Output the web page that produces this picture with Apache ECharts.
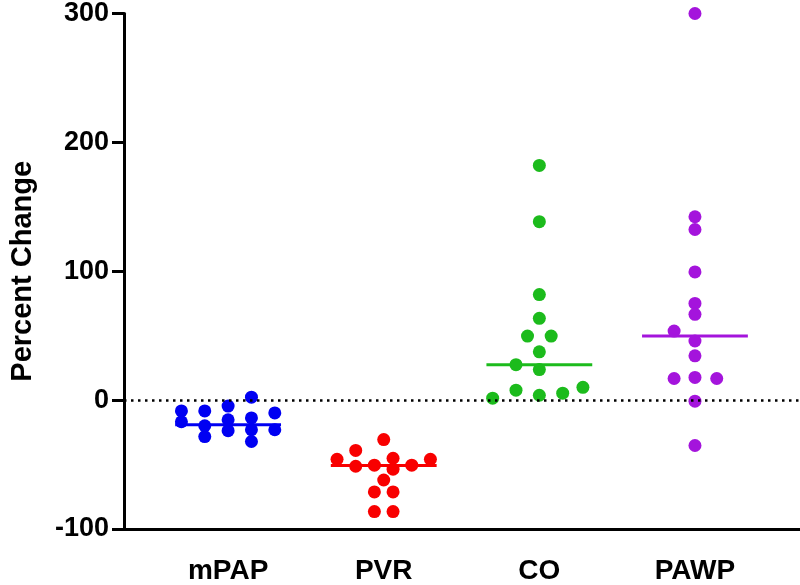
<!DOCTYPE html>
<html>
<head>
<meta charset="utf-8">
<script src="https://cdn.jsdelivr.net/npm/echarts@6/dist/echarts.min.js"></script>
<style>
html,body{margin:0;padding:0;background:#fff;}
#chart{width:800px;height:585px;}
</style>
</head>
<body>
<div id="chart"></div>
<script>
// ---- data ----
const categories = ['mPAP', 'PVR', 'CO', 'PAWP'];
const yTicks = [-100, 0, 100, 200, 300];

const mpapValues = [-8.4, -16.8, -8.4, -19.9, -28.3, -4.6, -15.3, -23.7, 2.3, -13.8, -23.0, -32.1, -9.9, -23.0];
const mpapJitter = [-0.30, -0.30, -0.15, -0.15, -0.15, 0, 0, 0, 0.15, 0.15, 0.15, 0.15, 0.30, 0.30];

const pvrValues = [-30.6, -39.0, -45.9, -45.1, -45.9, -51.3, -50.5, -53.6, -50.5, -62.0, -71.2, -71.2, -86.5, -86.5];
const pvrJitter = [0, -0.18, -0.30, 0.06, 0.30, -0.18, -0.06, 0.06, 0.18, 0, -0.06, 0.06, -0.06, 0.06];

const coValues = [182.1, 138.5, 81.9, 63.5, 49.7, 49.7, 37.5, 27.5, 23.7, 7.7, 1.5, 3.8, 5.4, 9.9];
const coJitter = [0, 0, 0, 0, -0.076, 0.076, 0, -0.15, 0, -0.15, -0.30, 0, 0.15, 0.28];

const pawpValues = [300, 142.3, 132.4, 99.5, 75.0, 66.6, 53.6, 45.9, 34.4, 16.8, 17.6, 16.8, -0.8, -35.2];
const pawpJitter = [0, 0, 0, 0, 0, 0, -0.134, 0, 0, -0.134, 0, 0.14, 0, 0];

const medians = [-19.1, -50.7, 27.5, 49.7];
const colors = ['#0000f2', '#f80000', '#1cbb1c', '#a414dc'];

// ---- build ----
const groups = [
  [mpapValues, mpapJitter],
  [pvrValues, pvrJitter],
  [coValues, coJitter],
  [pawpValues, pawpJitter]
];
const halfWidth = 0.34;
const font = "'Liberation Sans', Arial, sans-serif";

const series = [];
groups.forEach((g, i) => {
  const pos = i + 1;
  series.push({
    type: 'line',
    data: [[pos - halfWidth, medians[i]], [pos + halfWidth, medians[i]]],
    showSymbol: false,
    symbol: 'none',
    lineStyle: { color: colors[i], width: 3, opacity: 1 },
    silent: true,
    z: 3
  });
  series.push({
    type: 'scatter',
    data: g[0].map((v, k) => [pos + g[1][k], v]),
    symbolSize: 13,
    itemStyle: { color: colors[i], opacity: 1 },
    clip: false,
    z: 4
  });
});
series.push({
  type: 'line',
  data: [],
  markLine: {
    silent: true,
    symbol: 'none',
    label: { show: false },
    lineStyle: { color: '#000', width: 2.5, type: [2.5, 4.5], opacity: 1 },
    data: [{ yAxis: 0 }]
  },
  z: 2
});

const chart = echarts.init(document.getElementById('chart'), null, { renderer: 'canvas' });
chart.setOption({
  animation: false,
  backgroundColor: '#fff',
  grid: { left: 118, right: 0, top: 10, bottom: 52, containLabel: false },
  xAxis: {
    type: 'value',
    min: 0.331,
    max: 4.675,
    splitLine: { show: false },
    axisLine: { show: true, onZero: false, lineStyle: { color: '#000', width: 3 } },
    axisTick: { show: false },
    axisLabel: {
      customValues: [1, 2, 3, 4],
      formatter: v => categories[Math.round(v) - 1] || '',
      color: '#000',
      fontFamily: font,
      fontWeight: 'bold',
      fontSize: 28,
      margin: 28
    }
  },
  yAxis: {
    type: 'value',
    min: -100,
    max: 300,
    interval: 100,
    name: 'Percent Change',
    nameLocation: 'middle',
    nameGap: 87,
    nameTextStyle: { color: '#000', fontFamily: font, fontWeight: 'bold', fontSize: 29 },
    splitLine: { show: false },
    axisLine: { show: true, lineStyle: { color: '#000', width: 3 } },
    axisTick: { show: true, length: 12, lineStyle: { color: '#000', width: 3 } },
    axisLabel: {
      color: '#000',
      fontFamily: font,
      fontWeight: 'bold',
      fontSize: 27,
      margin: 15,
      formatter: v => (yTicks.indexOf(v) >= 0 ? String(v) : '')
    }
  },
  series: series
});
</script>
</body>
</html>
